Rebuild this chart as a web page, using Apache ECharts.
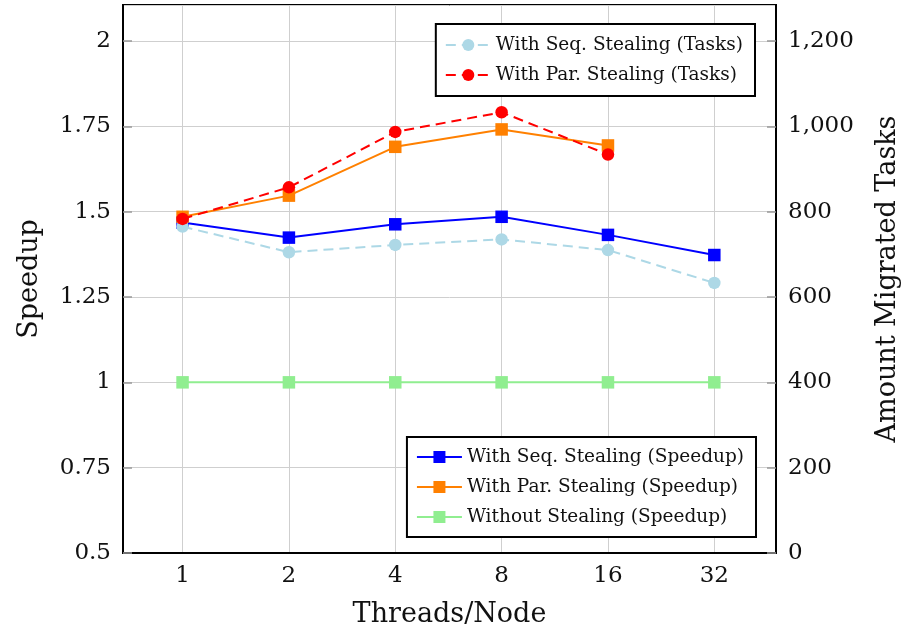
<!DOCTYPE html>
<html>
<head>
<meta charset="utf-8">
<script src="https://cdn.jsdelivr.net/npm/echarts@6/dist/echarts.min.js"></script>
<style>
  html, body { margin: 0; padding: 0; background: #fff; }
  #chart { width: 904px; height: 634px; }
</style>
</head>
<body>
<div id="chart"></div>
<script>
// Threads per node (x positions are their index on a linear axis)
const threads = [1, 2, 4, 8, 16, 32];

// Speedup series (left axis)
const seqSpeedup = [1.468, 1.424, 1.463, 1.485, 1.432, 1.373];
const parSpeedup = [1.485, 1.547, 1.690, 1.741, 1.694];
const noStealSpeedup = [1, 1, 1, 1, 1, 1];

// Migrated task counts (right axis)
const seqTasks = [765, 705, 722, 735, 710, 633];
const parTasks = [783, 857, 987, 1033, 934];

const FONT = 'DejaVu Serif';

function pairs(vals) {
  return vals.map((v, i) => [i, v]);
}

const chart = echarts.init(document.getElementById('chart'), null, { renderer: 'canvas' });

const speedupLine = (name, color, vals) => ({
  name, type: 'line', yAxisIndex: 0, data: pairs(vals),
  symbol: 'rect', symbolSize: 12.5,
  lineStyle: { color, width: 2 },
  itemStyle: { color },
  z: 2
});

const taskLine = (name, color, vals) => ({
  name, type: 'line', yAxisIndex: 1, data: pairs(vals),
  symbol: 'circle', symbolSize: 12.5,
  lineStyle: { color, width: 2, type: [10, 6] },
  itemStyle: { color },
  z: 3
});

const legendBase = {
  orient: 'vertical',
  backgroundColor: '#fff',
  borderColor: '#000',
  borderWidth: 2,
  borderRadius: 0,
  itemWidth: 45,
  itemHeight: 15,
  itemGap: 10,
  textStyle: { fontFamily: FONT, fontSize: 18.5, color: '#111', lineHeight: 20 }
};

const yAxisCommon = {
  type: 'value',
  nameLocation: 'middle',
  nameRotate: 90,
  nameTextStyle: { fontFamily: FONT, fontSize: 27, color: '#111' },
  axisLine: { show: true, onZero: false, lineStyle: { color: '#000', width: 2 } },
  axisTick: { show: true, inside: true, length: 9, lineStyle: { color: '#999', width: 1.5 } }
};

chart.setOption({
  animation: false,
  backgroundColor: '#fff',
  grid: {
    left: 123, right: 128, top: 5, bottom: 81,
    outerBoundsMode: 'none',
    containLabel: false,
    show: true, borderColor: '#000', borderWidth: 2, backgroundColor: 'transparent'
  },
  xAxis: {
    type: 'value',
    min: -0.56, max: 5.58,
    name: 'Threads/Node',
    nameLocation: 'middle',
    nameGap: 48,
    nameTextStyle: { fontFamily: FONT, fontSize: 27, color: '#111' },
    axisLine: { show: true, onZero: false, lineStyle: { color: '#000', width: 2 } },
    axisTick: { show: false },
    splitLine: { show: true, lineStyle: { color: '#cfcfcf', width: 1 } },
    axisLabel: {
      fontFamily: FONT, fontSize: 23, color: '#111', margin: 12,
      showMinLabel: false, showMaxLabel: false,
      formatter: v => (Number.isInteger(v) && threads[v] !== undefined) ? String(threads[v]) : ''
    }
  },
  yAxis: [
    Object.assign({}, yAxisCommon, {
      position: 'left',
      min: 0.5, max: 2.1055, interval: 0.25,
      name: 'Speedup',
      nameGap: 80,
      splitLine: { show: true, lineStyle: { color: '#cfcfcf', width: 1 } },
      axisLabel: { fontFamily: FONT, fontSize: 23, color: '#111', margin: 12, showMaxLabel: false }
    }),
    Object.assign({}, yAxisCommon, {
      position: 'right',
      min: 0, max: 1284.4, interval: 200,
      name: 'Amount Migrated Tasks',
      nameGap: 98,
      splitLine: { show: false },
      axisLabel: {
        fontFamily: FONT, fontSize: 23, color: '#111', margin: 12, showMaxLabel: false,
        formatter: v => v.toLocaleString('en-US')
      }
    })
  ],
  legend: [
    Object.assign({}, legendBase, {
      data: ['With Seq. Stealing (Tasks)', 'With Par. Stealing (Tasks)'],
      right: 149, top: 24,
      padding: [11, 12, 11, 9]
    }),
    Object.assign({}, legendBase, {
      data: ['With Seq. Stealing (Speedup)', 'With Par. Stealing (Speedup)', 'Without Stealing (Speedup)'],
      right: 148, bottom: 97,
      padding: [10, 12, 10, 9]
    })
  ],
  series: [
    speedupLine('With Seq. Stealing (Speedup)', '#0000ff', seqSpeedup),
    speedupLine('With Par. Stealing (Speedup)', '#ff8000', parSpeedup),
    speedupLine('Without Stealing (Speedup)', '#90ee90', noStealSpeedup),
    taskLine('With Seq. Stealing (Tasks)', '#add8e6', seqTasks),
    taskLine('With Par. Stealing (Tasks)', '#ff0000', parTasks)
  ]
});
</script>
</body>
</html>
